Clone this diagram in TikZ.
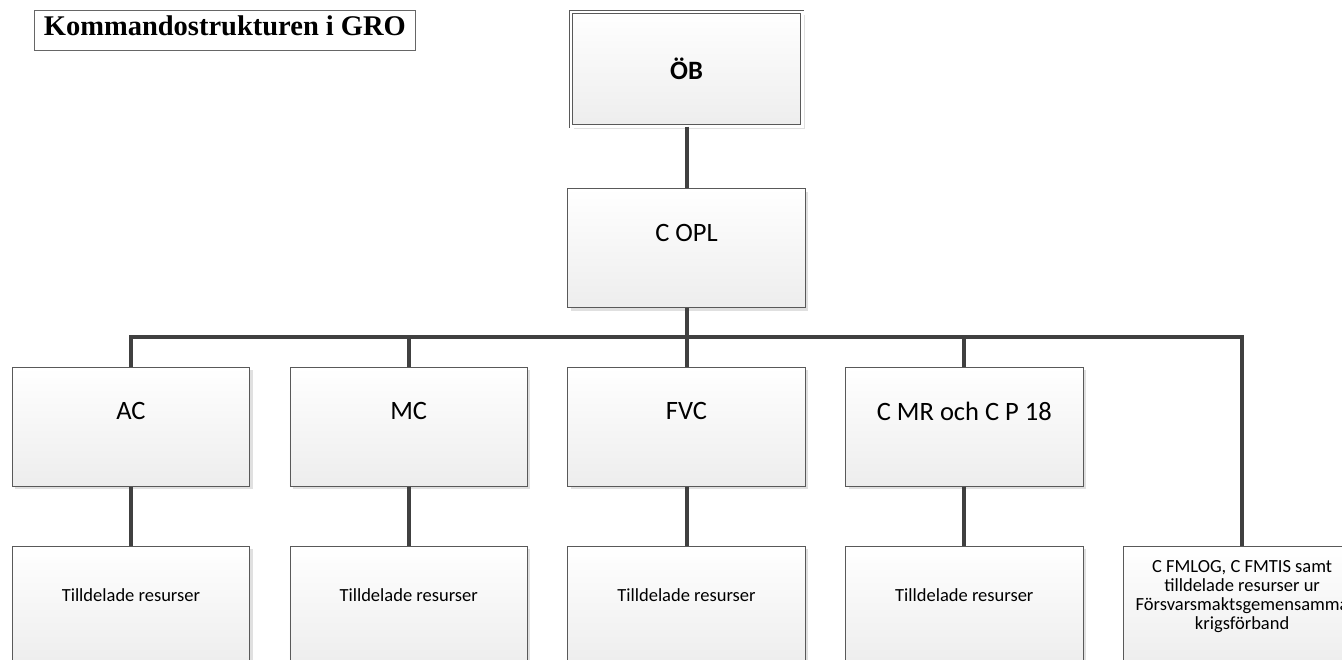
\documentclass[tikz,border=0pt]{standalone}
\usepackage{fontspec}
\setmainfont{Carlito}
\newfontfamily\titlefont{Liberation Serif}
\usetikzlibrary{positioning, shadows}

\begin{document}
\begin{tikzpicture}[x=1pt, y=1pt, node distance=59pt and 39.5pt,
    box/.style={draw=black!65, line width=0.8pt, top color=white, bottom color=black!7,
        minimum width=237.5pt, minimum height=119pt, inner sep=0pt,
        font=\fontsize{26.5}{30}\selectfont, text depth=31pt,
        drop shadow={shadow xshift=3pt, shadow yshift=-3pt, fill=black, opacity=0.12}},
    small/.style={box, font=\fontsize{18.5}{19}\selectfont, text depth=22pt, align=center},
    conn/.style={draw=black!75, line width=4pt}]
    \useasboundingbox (0,0) rectangle (1342,-659);
    \clip (0,0) rectangle (1342,-659);

    \node[draw=black!60, line width=0.8pt, anchor=north west, inner sep=0pt,
        minimum width=381pt, minimum height=40pt, text height=20pt, text depth=10pt,
        font=\titlefont\bfseries\fontsize{28.5}{30}\selectfont] (title) at (34,-10) {Kommandostrukturen i GRO\hspace{12pt}};

    \node[box, double, double distance=2.5pt, line width=0.7pt, minimum width=231.5pt,
        minimum height=114.5pt, text depth=0pt, font=\bfseries\fontsize{26.5}{30}\selectfont] (ob) at (686.5,-69) {ÖB};
    \node[box, below=61.5pt of ob] (copl) {C OPL};

    \node[box, below=of copl] (fvc) {FVC};
    \node[box, left=of fvc] (mc) {MC};
    \node[box, left=of mc] (ac) {AC};
    \node[box, right=of fvc] (cmr) {C MR och C P 18};

    \node[small, below=of ac] (ac3) {Tilldelade resurser};
    \node[small, below=of mc] (mc3) {Tilldelade resurser};
    \node[small, below=of fvc] (fvc3) {Tilldelade resurser};
    \node[small, below=of cmr] (cmr3) {Tilldelade resurser};
    \node[small, right=of cmr3] (fm) {C FMLOG, C FMTIS samt\\tilldelade resurser ur\\Försvarsmaktsgemensamma\\krigsförband};

    % connectors
    \path (copl.south) -- coordinate[midway] (bus) (fvc.north);
    \draw[conn] (ob) -- (copl);
    \draw[conn] (copl) -- (bus);
    \draw[conn] (ac.north) |- (bus) -| (fm.north);
    \foreach \n in {mc, fvc, cmr}
        \draw[conn] (\n.north) -- (\n.north |- bus);
    \foreach \a/\b in {ac/ac3, mc/mc3, fvc/fvc3, cmr/cmr3}
        \draw[conn] (\a) -- (\b);
\end{tikzpicture}
\end{document}
